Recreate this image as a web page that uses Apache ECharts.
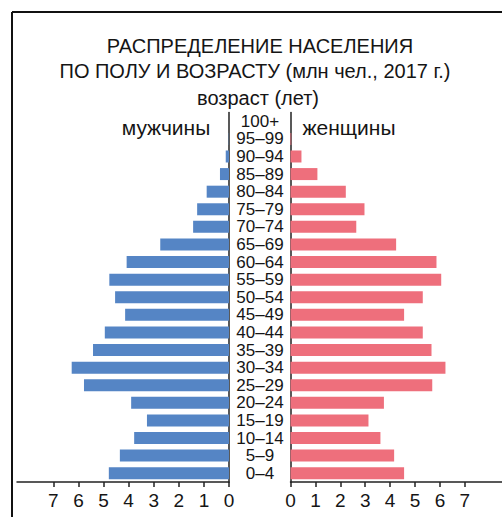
<!DOCTYPE html>
<html>
<head>
<meta charset="utf-8">
<script src="https://cdn.jsdelivr.net/npm/echarts@6/dist/echarts.min.js"></script>
<style>
html,body{margin:0;padding:0;background:#fff;}
#main{width:502px;height:517px;}
</style>
</head>
<body>
<div id="main"></div>
<script>
// Age groups, bottom to top
var categories = ['0–4','5–9','10–14','15–19','20–24','25–29','30–34','35–39','40–44','45–49','50–54','55–59','60–64','65–69','70–74','75–79','80–84','85–89','90–94','95–99','100+'];
// Population, million people, 2017
var men   = [4.79,4.35,3.78,3.27,3.90,5.78,6.27,5.42,4.95,4.14,4.54,4.77,4.08,2.74,1.43,1.27,0.89,0.36,0.13,0.01,0];
var women = [4.56,4.16,3.61,3.13,3.75,5.69,6.22,5.66,5.31,4.56,5.31,6.05,5.86,4.24,2.64,2.97,2.22,1.08,0.44,0.03,0];
var tickValues = [0,1,2,3,4,5,6,7];

var titleLine1 = 'РАСПРЕДЕЛЕНИЕ НАСЕЛЕНИЯ';
var titleLine2 = 'ПО ПОЛУ И ВОЗРАСТУ (млн чел., 2017 г.)';
var ageTitle = 'возраст (лет)';
var menLabel = 'мужчины';
var womenLabel = 'женщины';

var FONT = '"Liberation Sans", Arial, sans-serif';
var TXT = '#151515';
var chart = echarts.init(document.getElementById('main'), null, {renderer: 'svg'});

function xAxisCfg(idx, inverse, max) {
  return {
    type: 'value', gridIndex: idx, inverse: inverse, min: 0, max: max, interval: 1,
    axisLine: {show: true, lineStyle: {color: '#222', width: 1.5}},
    axisTick: {show: true, length: 5, customValues: tickValues, lineStyle: {color: '#222', width: 1.5}},
    axisLabel: {show: true, customValues: tickValues, fontSize: 19, color: TXT, fontFamily: FONT, margin: 9},
    splitLine: {show: false}
  };
}

var option = {
  backgroundColor: '#fff',
  animation: false,
  grid: [
    {left: 17, right: 273, top: 112.5, bottom: 35},
    {left: 290.5, right: 0, top: 112.5, bottom: 35}
  ],
  xAxis: [xAxisCfg(0, true, 8.45), xAxisCfg(1, false, 8.49)],
  yAxis: [
    {type: 'category', gridIndex: 0, data: categories, position: 'right',
     axisLine: {show: true, lineStyle: {color: '#222', width: 1.5}},
     axisTick: {show: false},
     axisLabel: {show: true, align: 'center', margin: 31, fontSize: 17, color: TXT, fontFamily: FONT, interval: 0}},
    {type: 'category', gridIndex: 1, data: categories, position: 'left',
     axisLine: {show: true, lineStyle: {color: '#222', width: 1.5}},
     axisTick: {show: false}, axisLabel: {show: false}}
  ],
  series: [
    {type: 'bar', xAxisIndex: 0, yAxisIndex: 0, data: men, barWidth: 12, itemStyle: {color: '#5585c5'}},
    {type: 'bar', xAxisIndex: 1, yAxisIndex: 1, data: women, barWidth: 12, itemStyle: {color: '#ee6f7c'}}
  ],
  graphic: [
    {type: 'line', shape: {x1: 12, y1: 12, x2: 502, y2: 12}, style: {stroke: '#111', lineWidth: 2}},
    {type: 'line', shape: {x1: 12, y1: 12, x2: 12, y2: 517}, style: {stroke: '#111', lineWidth: 2}},
    {type: 'text', x: 260, y: 46, style: {text: titleLine1, font: '20px ' + FONT, fill: TXT, textAlign: 'center', textVerticalAlign: 'middle'}},
    {type: 'text', x: 255, y: 71, style: {text: titleLine2, font: '20px ' + FONT, fill: TXT, textAlign: 'center', textVerticalAlign: 'middle'}},
    {type: 'text', x: 258, y: 98, style: {text: ageTitle, font: '20px ' + FONT, fill: TXT, textAlign: 'center', textVerticalAlign: 'middle'}},
    {type: 'text', x: 166, y: 127, style: {text: menLabel, font: '21px ' + FONT, fill: TXT, textAlign: 'center', textVerticalAlign: 'middle'}},
    {type: 'text', x: 349, y: 127, style: {text: womenLabel, font: '21px ' + FONT, fill: TXT, textAlign: 'center', textVerticalAlign: 'middle'}}
  ]
};
chart.setOption(option);
</script>
</body>
</html>
